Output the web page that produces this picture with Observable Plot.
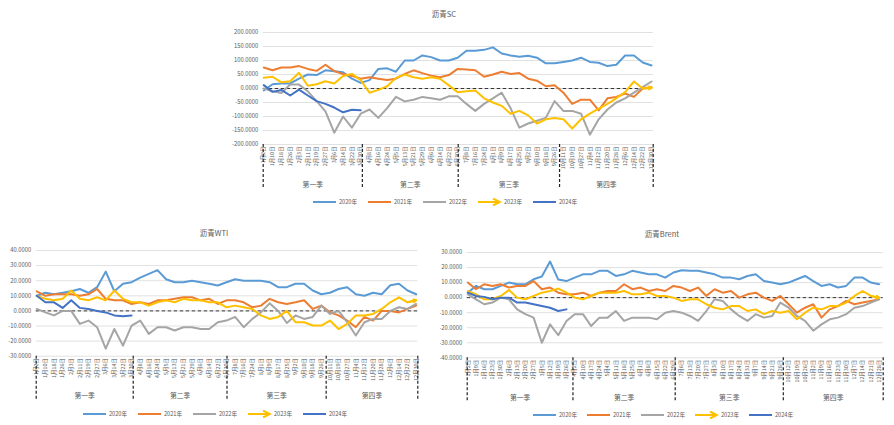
<!DOCTYPE html>
<html><head><meta charset="utf-8">
<script src="https://cdn.jsdelivr.net/npm/d3@7"></script>
<script src="https://cdn.jsdelivr.net/npm/@observablehq/plot@0.6"></script>
<style>
body{margin:0;background:#fff;}
#root{position:relative;width:894px;height:425px;overflow:hidden;background:#fff;font-family:"Noto Sans CJK SC","Noto Sans",sans-serif;}
.title{position:absolute;font-size:7.5px;color:#595959;transform:translate(-50%,-50%);white-space:nowrap;}
.legend{position:absolute;display:flex;align-items:center;height:8px;font-size:5.6px;color:#595959;}
.legend .item{display:flex;align-items:center;}
.legend svg{display:block;margin-right:2px;}
.panel{position:absolute;}
</style></head><body><div id="root"></div>
<script>
const years = ["2020年","2021年","2022年","2023年","2024年"];
const colors = ["#5B9BD5","#ED7D31","#A5A5A5","#FFC000","#4472C4"];
const quarterLabels = ["第一季","第二季","第三季","第四季"];
const quarterBounds = [-0.5, 89.5, 176.5, 268.5, 353.5];

const dateLabels8 = ["1月2日","1月10日","1月18日","1月26日","2月3日","2月11日","2月19日","2月27日","3月6日","3月14日","3月22日","3月30日","4月8日","4月16日","4月24日","5月5日","5月13日","5月21日","5月29日","6月6日","6月14日","6月22日","6月30日","7月8日","7月16日","7月24日","8月1日","8月9日","8月17日","8月25日","9月2日","9月10日","9月18日","9月26日","10月11日","10月19日","10月27日","11月4日","11月12日","11月20日","11月28日","12月6日","12月14日","12月22日","12月30日"];
const dateLabels7 = ["1月2日","1月9日","1月16日","1月23日","1月30日","2月6日","2月13日","2月20日","2月27日","3月5日","3月12日","3月19日","3月26日","4月2日","4月10日","4月17日","4月24日","5月4日","5月11日","5月18日","5月25日","6月1日","6月8日","6月15日","6月22日","6月29日","7月6日","7月13日","7月20日","7月27日","8月3日","8月10日","8月17日","8月24日","8月31日","9月7日","9月14日","9月21日","9月28日","10月12日","10月19日","10月26日","11月2日","11月9日","11月16日","11月23日","11月30日","12月7日","12月14日","12月21日","12月28日"];

// 沥青SC (one value every 8 categories)
const sc2020 = [-7,15,18,18,35,50,48,65,62,58,35,20,30,70,72,60,100,100,118,112,100,100,110,135,135,138,147,125,118,113,117,110,90,90,95,100,110,95,92,80,85,118,118,93,82];
const sc2021 = [75,65,75,75,80,70,63,85,62,52,45,35,40,35,30,35,52,65,55,46,40,48,70,68,65,42,50,60,52,55,35,28,8,12,-15,-55,-40,-40,-78,-35,-30,-18,-30,0,5];
const sc2022 = [0,-10,-16,14,14,-10,-45,-82,-158,-100,-140,-90,-75,-105,-70,-30,-46,-40,-30,-35,-40,-28,-28,-55,-80,-55,-35,-15,-70,-140,-125,-115,-105,-45,-80,-80,-90,-165,-110,-75,-50,-35,-15,5,25];
const sc2023 = [38,42,22,26,56,10,15,26,18,45,52,30,-15,-5,8,38,50,40,35,40,35,11,-13,-10,-7,-35,-50,-62,-90,-80,-96,-125,-110,-105,-110,-143,-110,-90,-72,-55,-35,-13,25,0,3];
const sc2024 = [12,-12,-5,-25,-4,-25,-45,-55,-68,-85,-76,-78];
const scTicks = [-200,-150,-100,-50,0,50,100,150,200];

// 沥青WTI (one value every 8 categories)
const wti2020 = [10,12,11,12,13,14.5,12,15.7,26,13,18,19,22,24.5,27,21,19,19,20,19,18,16.8,19,21,20,20,20,19,15.7,15.7,18,18,13.5,11,12,14.5,15.7,11,10,12,11,17,18,13.5,11];
const wti2021 = [13,10,11,11,11,10,11,14.5,8,7,7,4.6,5.7,4.6,7,7,8,9,9,7,8,4.6,7,7,5.7,2.4,3.5,8,5.7,4.6,5.7,7,1.3,3.5,-1,-3,-6.4,-10.8,-4,-6.4,0,0,-1,1.3,3.5];
const wti2022 = [1.3,-1,-3,0,0,-8.6,-6.4,-10.8,-25,-12,-23,-9.7,-6.4,-15.2,-10.8,-10.8,-13,-10.8,-10.8,-12,-12,-7.5,-6.4,-4,-10.8,-5.3,-1,5,0,-8,-3,-5.3,-4,3.5,-2,0,-7.5,-16.3,-7.5,-5.3,-5.3,0,2.4,1.3,4.6];
const wti2023 = [10,8,7,8,13.5,8,7,9,7,13.5,8,5.7,5.7,3.5,5.7,7,5.7,8,7,7,5.7,5.7,2.4,3.5,2.4,1.3,-3,-5.3,-4,0,-7.5,-7.5,-9.7,-9.7,-6.4,-12,-8.6,-3,-3,-2,1.3,5.7,9,5.7,7];
const wti2024 = [10,5.7,5.7,2,7,2,1.3,0,-1,-3,-3.5,-3];
const wtiTicks = [-30,-20,-10,0,10,20,30,40];

// 沥青Brent (one value every 7 categories)
const brent2020 = [3.3,7.8,5.6,5.6,7.8,10,8.9,8.9,12.2,14,24,12,11,13.3,15.5,15.5,17.8,17.8,14.4,15.5,17.8,16.7,15.5,15.5,13.3,16.7,18.2,17.8,17.8,16.7,15.5,13.3,13.3,12.2,14.4,15.5,11,10,8.9,10,12.2,14.4,11,7.8,8.9,6.7,7.8,13.3,13.3,10,8.9];
const brent2021 = [10,5.6,8.9,7.8,8.9,6.7,7.8,7.8,11,5.6,6.7,3.3,2.2,2.2,3.3,1.1,3.3,4.4,4.4,8.9,5.6,6.7,4.4,5.6,4.4,7.8,6.7,4.4,6.7,1.1,5.6,3.3,4.4,0,2.2,3.3,0,-2.2,1.1,-4.4,-10,-6.7,-4.4,-13.3,-7.8,-5.6,-2.2,-4.4,-3.3,-2.2,-1.1];
const brent2022 = [2.2,-1.1,-4.4,-3.3,0,-1.1,-7.8,-11,-13.3,-30,-17.8,-25,-15.5,-11,-11,-18.9,-13.3,-13.3,-8.9,-15.5,-13.3,-13.3,-13.3,-14.4,-10,-8.9,-10,-12.2,-15.5,-8.9,-1.1,-2.2,-7.8,-12.2,-15.5,-11,-13.3,-12.2,-3.3,-6.7,-12.2,-15.5,-22,-17.8,-14.4,-13.3,-11,-6.7,-5.6,-3.3,-1.1];
const brent2023 = [4.4,2.2,-1.1,-1.1,1.1,5,0,-1.1,1.1,3.3,4.4,6,3.3,0,-1.1,1.1,3.3,3.3,3.3,4.4,2.2,2.2,3.3,1.1,1.1,0,-2.2,-1.1,-1.1,-4.4,-6.7,-7.8,-5.6,-5.6,-8.9,-7.8,-11,-8.9,-10,-8.9,-14.4,-10,-6.7,-7.8,-5.6,-5.6,-3.3,1.1,4.4,1.1,0];
const brent2024 = [3.3,1.1,0.5,-1.1,0,0,-3.3,-3.3,-4.4,-5.6,-6.7,-8.9,-7.8];
const brentTicks = [-40,-30,-20,-10,0,10,20,30];

const FONT = '"Noto Sans CJK SC","Noto Sans",sans-serif';
const root = document.getElementById("root");

function panel(cfg) {
  const rows = [];
  cfg.series.forEach((vals, si) => vals.forEach((v, j) => rows.push({year: years[si], x: j * cfg.step, y: v})));
  const ticks = cfg.labels.map((_, i) => i * cfg.step);
  const labelOf = new Map(ticks.map((t, i) => [t, cfg.labels[i]]));
  const yMin = cfg.yTicks[0], yMax = cfg.yTicks[cfg.yTicks.length - 1];
  const s23 = cfg.series[3], n = s23.length;
  const arrowData = [{x1: (n - 2) * cfg.step, y1: s23[n - 2], x2: (n - 1) * cfg.step, y2: s23[n - 1]}];
  const quarters = quarterLabels.map((q, i) => ({q, x: (quarterBounds[i] + quarterBounds[i + 1]) / 2, y: yMin}));
  const svg = Plot.plot({
    width: cfg.width, height: cfg.height,
    marginLeft: cfg.ml, marginRight: cfg.mr, marginTop: cfg.mt, marginBottom: cfg.mb,
    x: {type: "linear", domain: [quarterBounds[0], quarterBounds[4]]},
    y: {domain: [yMin, yMax]},
    color: {domain: years, range: colors},
    style: {fontFamily: FONT, background: "#fff"},
    marks: [
      Plot.gridY(cfg.yTicks, {stroke: "#d9d9d9", strokeOpacity: 1, strokeWidth: 0.8}),
      Plot.axisY(cfg.yTicks, {tickSize: 0, tickPadding: 5, tickFormat: d => d.toFixed(4), fontSize: 5.8, color: "#595959"}),
      Plot.axisX(ticks, {tickSize: 0, tickPadding: 2, tickRotate: -90, tickFormat: d => labelOf.get(d), fontSize: 5.4, color: "#595959"}),
      Plot.ruleY([0], {stroke: "#222", strokeWidth: 0.9, strokeDasharray: "3.5,2.5"}),
      Plot.line(rows, {x: "x", y: "y", z: "year", stroke: "year", strokeWidth: 2, strokeLinejoin: "round"}),
      Plot.arrow(arrowData, {x1: "x1", y1: "y1", x2: "x2", y2: "y2", stroke: colors[3], strokeWidth: 2, headLength: 8}),
      Plot.ruleX(quarterBounds, {y1: yMin, y2: yMin, insetBottom: -44, stroke: "#222", strokeWidth: 1.2, strokeDasharray: "3,2"}),
      Plot.text(quarters, {x: "x", y: "y", text: "q", dy: 40, fontSize: 6.8, fill: "#595959"})
    ]
  });
  const wrap = document.createElement("div");
  wrap.className = "panel";
  wrap.style.left = cfg.left + "px"; wrap.style.top = cfg.top + "px";
  wrap.style.width = cfg.width + "px"; wrap.style.height = cfg.height + "px";
  wrap.appendChild(svg);
  root.appendChild(wrap);

  const t = document.createElement("div");
  t.className = "title"; t.textContent = cfg.title;
  t.style.left = cfg.titleX + "px"; t.style.top = cfg.titleY + "px";
  root.appendChild(t);

  const lg = document.createElement("div");
  lg.className = "legend";
  lg.style.left = cfg.legendX + "px"; lg.style.top = (cfg.legendY - 4) + "px";
  years.forEach((y, i) => {
    const it = document.createElement("span");
    it.className = "item"; it.style.width = cfg.legendStep + "px";
    const sw = i === 3
      ? `<line x1="0" y1="4" x2="21" y2="4" stroke="${colors[i]}" stroke-width="2"/><polyline points="15,0.5 22,4 15,7.5" fill="none" stroke="${colors[i]}" stroke-width="2"/>`
      : `<line x1="0" y1="4" x2="23" y2="4" stroke="${colors[i]}" stroke-width="2"/>`;
    it.innerHTML = `<svg width="24" height="8">${sw}</svg><span>${y}</span>`;
    lg.appendChild(it);
  });
  root.appendChild(lg);
}

panel({title: "沥青SC", titleX: 444, titleY: 13, left: 210, top: 20, width: 460, height: 172,
  ml: 52.7, mr: 17.3, mt: 12, mb: 48, step: 8, labels: dateLabels8, yTicks: scTicks,
  series: [sc2020, sc2021, sc2022, sc2023, sc2024], legendX: 313, legendY: 202, legendStep: 55});
panel({title: "沥青WTI", titleX: 214, titleY: 232, left: 0, top: 240, width: 440, height: 165,
  ml: 35.7, mr: 22.7, mt: 10, mb: 49.3, step: 8, labels: dateLabels8, yTicks: wtiTicks,
  series: [wti2020, wti2021, wti2022, wti2023, wti2024], legendX: 83, legendY: 414, legendStep: 55});
panel({title: "沥青Brent", titleX: 662, titleY: 233, left: 440, top: 240, width: 454, height: 165,
  ml: 26.7, mr: 11.3, mt: 12, mb: 47.7, step: 7, labels: dateLabels7, yTicks: brentTicks,
  series: [brent2020, brent2021, brent2022, brent2023, brent2024], legendX: 533, legendY: 415, legendStep: 54});
</script></body></html>
